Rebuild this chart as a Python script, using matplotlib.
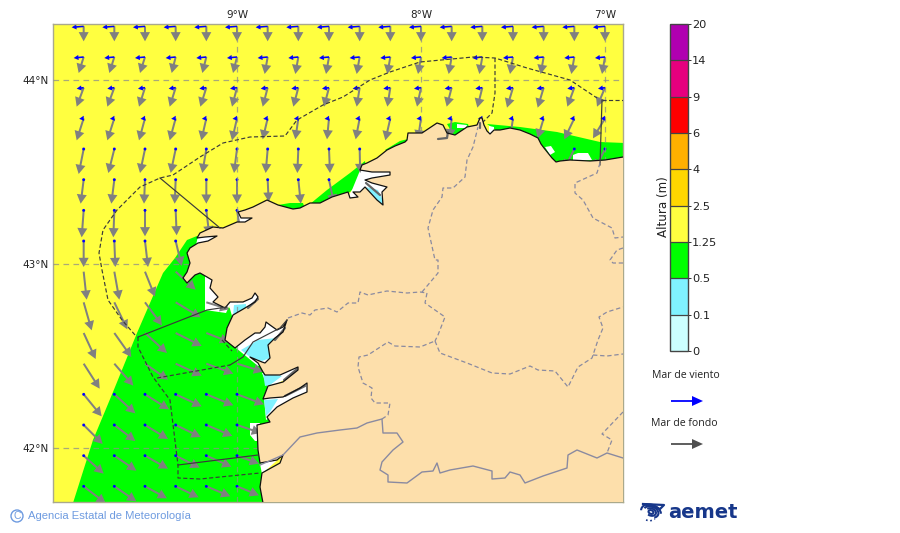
import numpy as np
import matplotlib
matplotlib.use("Agg")
import matplotlib.pyplot as plt
from matplotlib.cm import ScalarMappable
from matplotlib.colors import BoundaryNorm, ListedColormap
from matplotlib.patches import Circle, Arc

N = None
# ---------- data ----------
grid_lons = [-9.8333, -9.6667, -9.5, -9.3333, -9.1667, -9.0, -8.8333, -8.6667, -8.5,
             -8.3333, -8.1667, -8.0, -7.8333, -7.6667, -7.5, -7.3333, -7.1667, -7.0]
grid_lats = [44.2917, 44.125, 43.9583, 43.7917, 43.625, 43.4583, 43.2917, 43.125,
             42.9583, 42.7917, 42.625, 42.4583, 42.2917, 42.125, 41.9583, 41.7917]

swell_east = [
 [0, 0, 0, 0, 0, 0, 0, 0, 0, 0, 0, 0, 0, 0, 0, 0, 0, 0],
 [-5, -5, -5, -4, -4, -4, -3, -3, -3, -3, -3, -3, -3, -3, -3, -3, -3, -3],
 [-7, -7, -6, -6, -6, -5, -5, -5, -5, -3, -3, -4, -5, -5, -6, -6, -7, -8],
 [-7, -7, -6, -6, -5, -5, -5, -3, -2, -4, -5, -3, -2, -3, -3, -6, -10, -12],
 [-5, -6, -5, -5, -4, -3, -2, -1, 1, 0.5, N, N, N, N, N, N, -10, -10],
 [-3, -3, -1, -1, 0, 0, 1, 2.5, 5, N, N, N, N, N, N, N, N, N],
 [-2, -1, 0, 1, 3, 4, N, N, N, N, N, N, N, N, N, N, N, N],
 [0, 1, 3, 6, N, N, N, N, N, N, N, N, N, N, N, N, N, N],
 [3, 5, 10, 20, N, N, N, N, N, N, N, N, N, N, N, N, N, N],
 [8, 13, 17, 25, 23, N, N, N, N, N, N, N, N, N, N, N, N, N],
 [12, 17, 22, 26, 23, N, N, N, N, N, N, N, N, N, N, N, N, N],
 [16, 19, 23, 26, 27, 26, N, N, N, N, N, N, N, N, N, N, N, N],
 [18, 21, 24, 26, 27, 27, N, N, N, N, N, N, N, N, N, N, N, N],
 [19, 21, 23, 25, 26, 24, N, N, N, N, N, N, N, N, N, N, N, N],
 [20, 22, 23, 24, 25, 22, N, N, N, N, N, N, N, N, N, N, N, N],
 [22, 22, 22, 23, 24, 22, N, N, N, N, N, N, N, N, N, N, N, N],
]
swell_south = [
 [15, 15, 15, 15, 15, 15, 15, 15, 15, 15, 15, 15, 15, 15, 15, 15, 15, 15],
 [16, 16, 16, 16, 16, 16, 17, 17, 17, 17, 17, 17, 17, 17, 17, 17, 17, 17],
 [19, 19, 19, 19, 19, 19, 19, 19, 19, 19, 19, 19, 19, 20, 20, 20, 19, 19],
 [22, 22, 22, 22, 22, 22, 21, 21, 21, 21, 22, 21, 20, 20, 20, 20, 21, 20],
 [25, 24, 24, 24, 24, 24, 24, 24, 24, 24, N, N, N, N, N, N, 20, 20],
 [24, 24, 24, 24, 24, 24, 22, 24, 24, N, N, N, N, N, N, N, N, N],
 [27, 27, 26, 25, 25, 24, N, N, N, N, N, N, N, N, N, N, N, N],
 [26, 26, 26, 25, N, N, N, N, N, N, N, N, N, N, N, N, N, N],
 [28, 28, 25, 18, N, N, N, N, N, N, N, N, N, N, N, N, N, N],
 [28, 27, 23, 15, 7, N, N, N, N, N, N, N, N, N, N, N, N, N],
 [26, 24, 20, 13, 9, N, N, N, N, N, N, N, N, N, N, N, N, N],
 [25, 22, 16, 12, 10, 8, N, N, N, N, N, N, N, N, N, N, N, N],
 [22, 19, 15, 12, 11, 10, N, N, N, N, N, N, N, N, N, N, N, N],
 [19, 16, 14, 12, 11, 8, N, N, N, N, N, N, N, N, N, N, N, N],
 [18, 15, 13, 12, 11, 8, N, N, N, N, N, N, N, N, N, N, N, N],
 [17, 15, 12, 11, 10, 9, N, N, N, N, N, N, N, N, N, N, N, N],
]
# wind sea varies by row only; None where no mark is visible
wind_east = [-12, -10, -7, -4.5, -2.5, -1.5, -1, -0.8, N, N, N, N, -0.8, -0.8, -0.8, -0.8]
wind_south = [1, 1, 1, 0.5, 0, 0, 0, 0, N, N, N, N, 0, 0, 0, 0]

levels = [0, 0.1, 0.5, 1.25, 2.5, 4, 6, 9, 14, 20]
level_labels = ['0', '0.1', '0.5', '1.25', '2.5', '4', '6', '9', '14', '20']
level_colors = ['#ccffff', '#80f2ff', '#00ff00', '#ffff40', '#ffd700', '#ffb000',
                '#ff0000', '#e6007e', '#b000b0']
lon_ticks = [-9, -8, -7]
lon_labels = ['9°W', '8°W', '7°W']
lat_ticks = [42, 43, 44]
lat_labels = ['42°N', '43°N', '44°N']

# map traces (picture x, y), turned into lon/lat by geo()
coast = [(623,157),(605,160),(590,161),(570,160),(560,161),(556,162),(552,158),(548,153),(544,148),
 (541,144),(538,138),(530,134),(520,130),(510,128),(500,130),(494,130),(490,134),(487,131),(484,125),
 (482,118),(480,118),(477,125),(467,127),(455,135),(447,133),(443,125),(437,123),(422,133),(408,133),
 (407,140),(405,142),(395,146),(387,150),(377,158),(367,163),(362,165),(360,170),(372,172),(390,172),
 (390,175),(372,178),(365,180),(372,183),(387,187),(382,192),(383,205),(377,200),(365,187),(360,192),
 (353,192),(358,197),(350,198),(348,192),(332,197),(320,203),(310,203),(300,208),(293,209),(278,205),
 (267,200),(253,207),(245,210),(238,212),(241,218),(252,218),(245,222),(237,222),(223,228),(213,227),
 (200,233),(197,238),(205,237),(217,236),(208,241),(198,243),(190,248),(187,253),(190,263),(187,272),
 (183,278),(187,283),(195,275),(200,273),(207,277),(212,280),(210,288),(218,297),(213,302),(225,308),
 (230,302),(243,302),(252,298),(255,293),(258,297),(255,302),(245,308),(233,315),(227,328),(225,340),
 (235,348),(245,340),(255,333),(260,333),(265,327),(266,322),(270,325),(277,330),(283,327),(287,320),
 (283,332),(275,338),(268,345),(270,358),(265,363),(262,362),(250,357),(258,363),(263,372),(265,375),
 (280,375),(298,367),(298,370),(283,382),(268,386),(263,399),(270,398),(283,397),(300,388),(307,383),
 (307,392),(293,398),(277,407),(267,417),(270,422),(257,425),(258,450),(260,463),(277,460),(283,455),
 (280,463),(262,473),(260,487),(263,503)]
land_close = [(625,503),(625,157)]

green_main = [(73,503),(93,440),(113,392),(137,333),(163,273),(175,258),(187,240),(197,236),(225,240),
 (225,305),(240,315),(238,345),(272,372),(272,420),(264,440),(272,503)]
green_north = [
 [(278,205),(290,203),(303,203),(305,209),(292,212)],
 [(310,204),(327,190),(350,173),(365,161),(367,175),(350,192),(320,207)],
 [(385,150),(400,141),(408,139),(408,145),(390,153)],
 [(447,124),(455,122),(468,124),(470,130),(455,138)],
 [(487,124),(520,127),(557,132),(600,142),(625,143),(625,160),(556,165),(530,138),(500,133)],
]
white_patches = [
 [(205,273),(205,310),(226,313),(232,300),(215,270)],
 [(250,423),(250,435),(255,441),(260,441),(260,423)],
 [(545,147),(551,146),(555,152),(550,155)],
 [(573,155),(578,153),(588,153),(592,160),(573,161)],
 [(457,124),(467,125),(466,128),(457,128)],
 [(489,126),(494,127),(494,133),(489,135)],
 [(361,168),(392,170),(390,180),(387,208),(345,202),(352,190)],
 [(198,236),(218,234),(205,245),(196,245)],
 [(238,210),(254,216),(245,224),(238,224)],
 [(228,302),(260,290),(258,304),(232,316)],
 [(236,348),(264,320),(290,318),(274,362),(258,366)],
 [(262,373),(300,365),(300,372),(268,388)],
 [(264,398),(309,381),(309,394),(266,420)],
 [(260,464),(285,453),(262,474)],
]
cyan_patches = [
 [(234,305),(246,304),(246,309),(233,316)],
 [(241,350),(258,340),(276,338),(270,358),(262,361),(250,357)],
 [(263,373),(282,376),(270,385),(265,386)],
 [(264,400),(278,399),(270,412),(266,416)],
 [(366,187),(378,190),(385,205),(378,203)],
]
grey_rias = [[(438,139),(447,138),(448,132)], [(480,128),(480,123)], [(366,183),(380,195)],
             [(248,308),(258,299)], [(275,340),(285,328)], [(284,380),(297,369)], [(285,396),(305,386)]]

sea_dashed = [
 [(135,335),(122,320),(108,300),(102,270),(99,253),(103,230),(117,210),(140,187),(160,178),(173,175),
  (200,157),(223,143),(250,137),(285,136),(297,120),(323,105),(343,97),(370,80),(390,72),(420,62),
  (473,57),(495,58),(527,68),(570,80),(597,98)],
 [(495,58),(495,93),(492,113),(480,125)],
 [(602,100),(623,100)],
 [(138,337),(138,347),(153,377),(170,400),(178,465),(178,478),(200,479),(260,473)],
 [(157,378),(230,365)],
 [(222,340),(232,351)],
]
sea_solid = [
 [(602,100),(600,165)],
 [(160,178),(220,228)],
 [(138,337),(207,310),(227,307)],
 [(230,365),(243,357),(253,342),(280,328),(287,320)],
 [(178,465),(258,455)],
]
border_solid = [(260,465),(283,455),(300,437),(317,433),(340,430),(357,428),(367,423),(382,419),(383,433),
 (397,433),(403,442),(393,450),(382,462),(380,470),(388,475),(388,482),(407,483),(422,472),(433,471),
 (437,463),(440,473),(450,470),(473,466),(492,471),(492,479),(505,478),(510,472),(520,475),(525,483),
 (543,476),(567,468),(568,455),(577,450),(597,458),(607,453),(623,458)]
border_dashed = [
 [(288,318),(302,313),(310,315),(315,310),(328,308),(337,312),(348,303),(358,303),(360,292),(368,295),
  (377,293),(387,291),(407,293),(420,292),(427,293),(425,303),(445,317),(438,335),(435,341)],
 [(422,292),(438,273),(438,260),(435,260),(428,228),(433,210),(442,197),(443,188),(453,188),(465,177),
  (467,160),(473,147),(478,127)],
 [(382,419),(388,415),(390,403),(375,403),(371,398),(372,388),(363,383),(358,367),(359,357),(368,355),
  (388,342),(395,346),(420,347),(435,341)],
 [(435,341),(440,353),(467,363),(492,373),(510,374),(530,366),(538,370),(555,371),(568,387),(578,367),
  (592,358),(598,340),(603,328),(599,317),(607,312),(623,307)],
 [(593,355),(607,356),(623,354)],
 [(623,412),(602,434),(612,440),(607,453)],
 [(600,163),(597,173),(575,183),(575,193),(583,200),(593,218),(612,228),(615,238),(623,237)],
 [(623,248),(617,250),(610,260),(613,263),(623,263)],
]


def geo(trace):
    a = np.array(trace, dtype=float)
    return -9 + (a[:, 0] - 237) / 184, 44 - (a[:, 1] - 80) / 184


# ---------- figure ----------
fig = plt.figure(figsize=(9, 5.33), dpi=100, facecolor='white')
W, H = 900, 533
ax = fig.add_axes([53 / W, (H - 502) / H, 570 / W, 478 / H])
ax.set_facecolor(level_colors[3])
ax.set_xlim(-10, -9 + 386 / 184)
ax.set_ylim(44 - 422 / 184, 44 + 56 / 184)

ax.fill(*geo(green_main), color=level_colors[2], lw=0, zorder=1)
for p in green_north:
    ax.fill(*geo(p), color=level_colors[2], lw=0, zorder=1)
for p in white_patches:
    ax.fill(*geo(p), color='white', lw=0, zorder=1.1)
for p in cyan_patches:
    ax.fill(*geo(p), color=level_colors[1], lw=0, zorder=1.2)

lon2, lat2 = np.meshgrid(grid_lons, grid_lats)
se = np.array(swell_east, dtype=float)
ss = np.array(swell_south, dtype=float)
m = ~np.isnan(se)
ax.quiver(lon2[m], lat2[m], se[m], -ss[m], angles='uv', scale_units='dots', scale=1, units='dots',
          width=2.0, headwidth=5.0, headlength=4.6, headaxislength=4.6, minshaft=0.5, color='#808080', zorder=2)
we = np.tile(np.array(wind_east, dtype=float)[:, None], (1, len(grid_lons)))
ws = np.tile(np.array(wind_south, dtype=float)[:, None], (1, len(grid_lons)))
m2 = m & ~np.isnan(we)
ax.quiver(lon2[m2], lat2[m2], we[m2], -ws[m2], angles='uv', scale_units='dots', scale=1, units='dots',
          width=1.6, headwidth=3.2, headlength=3.0, headaxislength=3.0, minshaft=0.5, minlength=2.0,
          color='#0000ff', zorder=2.1)

for p in sea_dashed:
    ax.plot(*geo(p), color='#3a3a3a', lw=0.85, dashes=(3.5, 2), zorder=3)

lx, ly = geo(coast + land_close)
ax.fill(lx, ly, color='#fddfab', lw=0, zorder=4)
for p in grey_rias:
    ax.plot(*geo(p), color='#666666', lw=1.6, zorder=4.5, solid_capstyle='round')
ax.plot(*geo(coast), color='#111111', lw=0.9, zorder=4.6)

for p in sea_solid:
    ax.plot(*geo(p), color='#3a3a3a', lw=0.85, zorder=5)
ax.plot(*geo(border_solid), color='#8a8aa0', lw=1.0, zorder=5)
for p in border_dashed:
    ax.plot(*geo(p), color='#8a8aa0', lw=0.9, dashes=(3.5, 2.2), zorder=5)

ax.set_xticks(lon_ticks, lon_labels)
ax.set_yticks(lat_ticks, lat_labels)
ax.xaxis.tick_top()
ax.tick_params(length=0, labelsize=7.5, colors='#222222', pad=3)
ax.grid(True, color='#8c8c8c', alpha=0.75, lw=0.9, ls=(0, (4.5, 3.5)), zorder=6)
ax.set_axisbelow(False)
for s in ax.spines.values():
    s.set_color('#aaa98c')
    s.set_linewidth(1.0)

# colour bar
cax = fig.add_axes([669.5 / W, (H - 351) / H, 18.5 / W, 327 / H])
cmap = ListedColormap(level_colors)
norm = BoundaryNorm(levels, cmap.N)
cb = fig.colorbar(ScalarMappable(norm=norm, cmap=cmap), cax=cax, spacing='uniform', ticks=levels, drawedges=True)
cb.ax.set_yticklabels(level_labels, fontsize=8.2, color='#222222')
cb.ax.tick_params(length=2.5, width=0.7, pad=0.5, color='#333333')
cb.dividers.set_color('#444444')
cb.dividers.set_linewidth(0.9)
cb.outline.set_edgecolor('#444444')
cb.outline.set_linewidth(1.0)
cb.set_label('Altura (m)', fontsize=8.6, color='#222222', labelpad=0, y=0.443)
cb.ax.yaxis.set_label_position('left')

# overlay in picture units for the legend, credit and logo
ov = fig.add_axes([0, 0, 1, 1], zorder=-1)
ov.set_xlim(0, W)
ov.set_ylim(H, 0)
ov.axis('off')
ov.text(686, 376, 'Mar de viento', ha='center', va='center', fontsize=7.6, family='Open Sans', color='#222222')
ov.arrow(671, 401, 32, 0, width=1.8, head_width=10, head_length=11, length_includes_head=True, color='#0000ff', lw=0)
ov.text(684, 423, 'Mar de fondo', ha='center', va='center', fontsize=7.6, family='Open Sans', color='#222222')
ov.arrow(671, 444, 32, 0, width=1.8, head_width=10, head_length=11, length_includes_head=True, color='#505050', lw=0)

credit = '#6e9be0'
ov.add_patch(Circle((17, 516), 6, fc='none', ec=credit, lw=1.0))
ov.text(17, 516, 'C', ha='center', va='center', fontsize=7.5, color=credit, family='Liberation Sans')
ov.text(28, 516, 'Agencia Estatal de Meteorología', ha='left', va='center', fontsize=8.1,
        color=credit, family='Liberation Sans')

logo = '#17378a'
ov.text(668, 512, 'aemet', ha='left', va='center', fontsize=14, fontweight='bold', color=logo, family='DejaVu Sans')
for r, a0, a1 in [(3, 0, 360), (6, 200, 480), (9, 190, 400), (12, 170, 350)]:
    ov.add_patch(Arc((651, 512), r * 1.7, r * 1.2, angle=20, theta1=a0, theta2=a1, color=logo, lw=1.5))
ov.plot([643, 664, 660, 647], [504, 505, 509, 505], color=logo, lw=1.6)
ov.plot([646, 650, 655], [520, 521, 519], color=logo, lw=1.2, ls=':')

fig.savefig('out.png', dpi=100)
